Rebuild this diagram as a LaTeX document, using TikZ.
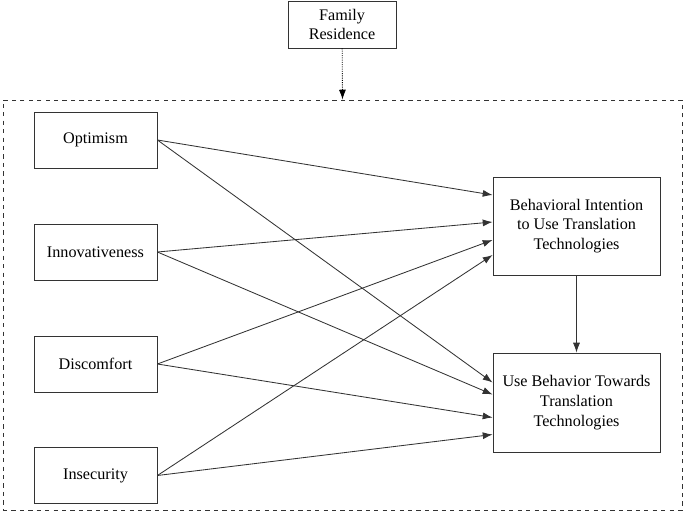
\documentclass[tikz,border=0pt]{standalone}
\usepackage{fontspec}
\setmainfont{Liberation Serif}
\usetikzlibrary{calc,arrows.meta}
\colorlet{lineGray}{black!80}

\begin{document}
\begin{tikzpicture}[x=0.025cm, y=-0.025cm,
		box/.style = {draw=lineGray, semithick, align=center, font=\fontsize{11.5}{14}\selectfont, inner sep=0pt},
		path/.style = {draw=lineGray, semithick, -{Latex[length=7pt,width=5pt]}}]
		\useasboundingbox (0,0) rectangle (685,512);
		%%%%%%%%%%%%%
		\node[box, minimum width=108*0.025cm, minimum height=47*0.025cm] (fam) at (342, 24.5) {Family\\Residence};
		\node[draw=lineGray, dashed, semithick, minimum width=679*0.025cm, minimum height=410*0.025cm] (frame) at (342.5, 305) {};
		\node[box, minimum width=123*0.025cm, minimum height=56*0.025cm] (opt) at (95.5, 140) {Optimism};
		\node[box, minimum width=123*0.025cm, minimum height=56*0.025cm] (inn) at (95.5, 252) {Innovativeness};
		\node[box, minimum width=123*0.025cm, minimum height=56*0.025cm] (dis) at (95.5, 364) {Discomfort};
		\node[box, minimum width=123*0.025cm, minimum height=56*0.025cm] (ins) at (95.5, 475.5) {Insecurity};
		\node[box, minimum width=167*0.025cm, minimum height=98*0.025cm] (bi) at (576.5, 226) {Behavioral Intention\\to Use Translation\\Technologies};
		\node[box, minimum width=167*0.025cm, minimum height=99*0.025cm] (ub) at (576.5, 402.5) {Use Behavior Towards\\Translation\\Technologies};
		%%%%%%%%%%%%%
		\draw [path, densely dotted, black] (fam) to (frame.north);
		\draw [path] (opt.east) to ($(bi.west)+(0,-31)$); \draw [path] (opt.east) to ($(ub.west)+(0,-20)$);
		\draw [path] (inn.east) to ($(bi.west)+(0,-4)$); \draw [path] (inn.east) to ($(ub.west)+(0,-8)$);
		\draw [path] (dis.east) to ($(bi.west)+(0,14)$); \draw [path] (dis.east) to ($(ub.west)+(0,15)$);
		\draw [path] (ins.east) to ($(bi.west)+(0,29)$); \draw [path] (ins.east) to ($(ub.west)+(0,32)$);
		\draw [path] (bi) to (ub);
\end{tikzpicture}
\end{document}
